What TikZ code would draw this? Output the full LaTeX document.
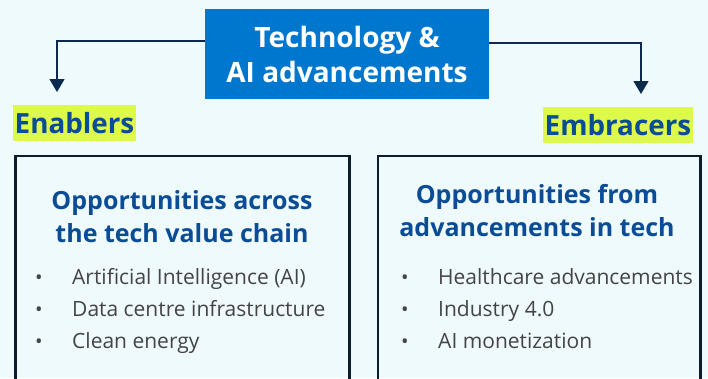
\documentclass[tikz,border=0pt]{standalone}
\usepackage{fontspec}
\setmainfont{Open Sans}
\usetikzlibrary{arrows.meta,positioning}
\definecolor{bgcol}{HTML}{EFFAFD}
\definecolor{titleblue}{HTML}{0077CE}
\definecolor{navy}{HTML}{0B2A4E}
\definecolor{lime}{HTML}{DDF94A}
\definecolor{headblue}{HTML}{0B4C96}
\definecolor{itemgray}{HTML}{444444}
\definecolor{edge}{HTML}{0D1B2E}
\begin{document}
\begin{tikzpicture}[x=1pt,y=-1pt,
  arr/.style={draw=navy, line width=1.4pt, -{Triangle[width=15pt,length=13pt]}},
  tag/.style={fill=lime, text=headblue, font=\bfseries\fontsize{27.8}{30}\selectfont,
    inner xsep=1.5pt, inner ysep=0pt, text height=28pt, text depth=8pt, anchor=base west},
  panel/.style={draw=edge, line width=2.7pt, anchor=north west, minimum height=260pt},
  heading/.style={text=headblue, font=\bfseries\fontsize{25}{33}\selectfont, align=center, inner sep=0pt, anchor=base},
  item/.style={text=itemgray, font=\fontsize{21}{24}\selectfont, inner sep=0pt, anchor=base west},
  dot/.style={text=itemgray, font=\fontsize{20}{24}\selectfont, inner sep=0pt, anchor=base}]
\useasboundingbox[fill=bgcol] (0,0) rectangle (708,378);

\node[fill=titleblue, text=white, font=\bfseries\fontsize{28}{35}\selectfont, align=center,
  minimum width=284pt, minimum height=90pt, inner sep=0pt] (title) at (347,54)
  {Technology \&\\AI advancements};

\node[tag] (enablers) at (13,133) {Enablers};
\node[tag] (embracers) at (543,135) {Embracers};

\coordinate (entip) at (57,92);
\coordinate (emtip) at (641,94);
\draw[arr] ([yshift=13pt]title.west) -| (entip);
\draw[arr] ([yshift=11pt]title.east) -| (emtip);

\node[panel, minimum width=334pt] (leftpanel) at (14,154.5) {};
\node[panel, minimum width=322.6pt] (rightpanel) at (376.7,154.7) {};

\node[heading] (lefthead) at (182,242) {Opportunities across\\the tech value chain};
\node[heading] (righthead) at (537,236) {Opportunities from\\advancements in tech};

\foreach \txt [count=\i] in {Artificial Intelligence (AI),Data centre infrastructure,Clean energy} {
  \node[dot] (ldot\i) at (39,252+32*\i) {•};
  \node[item] (litem\i) at (72,252+32*\i) {\txt};
}
\foreach \txt [count=\i] in {Healthcare advancements,Industry 4.0,AI monetization} {
  \node[dot] (rdot\i) at (405,252+32*\i) {•};
  \node[item] (ritem\i) at (438,252+32*\i) {\txt};
}
\end{tikzpicture}
\end{document}
